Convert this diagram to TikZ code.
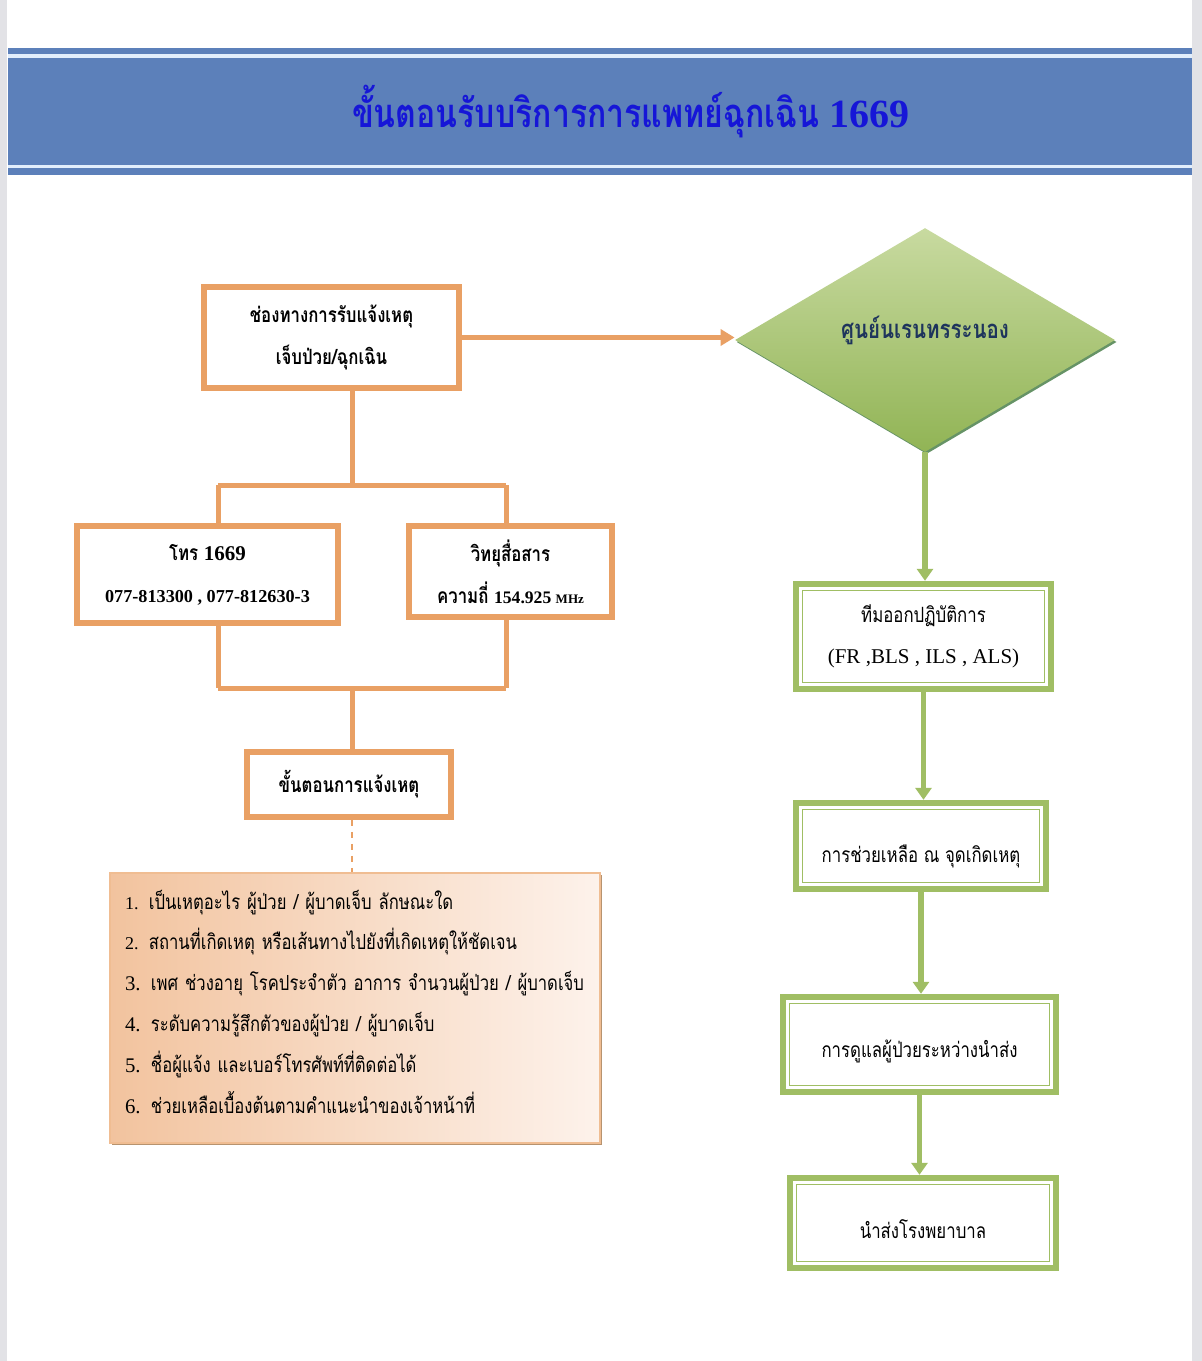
\documentclass[tikz,border=0pt]{standalone}
\usepackage{fontspec}
\setmainfont[Script=Thai,FakeStretch=0.8]{Loma}
\newfontfamily\lat{Liberation Serif}
\usetikzlibrary{positioning,arrows.meta,shapes.geometric,shadows}
\definecolor{bandblue}{RGB}{92,128,186}
\definecolor{bandpale}{RGB}{226,238,252}
\definecolor{titleblue}{RGB}{22,22,215}
\definecolor{oline}{RGB}{233,160,100}
\definecolor{gline}{RGB}{160,190,100}
\definecolor{gdark}{RGB}{145,180,85}
\definecolor{glight}{RGB}{200,218,160}
\definecolor{navy}{RGB}{30,52,92}
\definecolor{tandark}{RGB}{242,195,158}
\definecolor{tanmid}{RGB}{249,222,201}
\definecolor{tanlight}{RGB}{253,242,235}
\definecolor{sidegray}{RGB}{226,226,230}
\begin{document}
\begin{tikzpicture}[x=0.5pt,y=-0.5pt,
  obox/.style={draw=oline,line width=2.8pt,fill=white,inner sep=0pt,align=center,
    font=\fontsize{10.5}{21}\selectfont\bfseries},
  gbox/.style={draw=gline,line width=3.2pt,fill=white,inner sep=0pt,align=center,
    font=\fontsize{10.5}{20.5}\selectfont,
    path picture={\draw[gline,line width=0.8pt]
      ([shift={(3.2pt,-3.2pt)}]path picture bounding box.north west) rectangle
      ([shift={(-3.2pt,3.2pt)}]path picture bounding box.south east);}},
  link/.style={draw=oline,line width=2.5pt},
  garrow/.style={draw=gline,line width=2.6pt,-{Triangle[width=8pt,length=6pt]}}]
  \useasboundingbox (0,0) rectangle (1202,1361);
  \fill[white] (0,0) rectangle (1202,1361);
  \fill[sidegray] (0,0) rectangle (7,1361);
  \fill[sidegray] (1192,0) rectangle (1202,1361);
  \fill[bandblue] (8,48) rectangle (1192,175);
  \fill[bandpale] (8,54) rectangle (1192,58);
  \fill[bandpale] (8,165) rectangle (1192,168);
  \node[text=titleblue,font=\fontsize{20}{24}\selectfont\bfseries] (title) at (631,112)
    {ขั้นตอนรับบริการการแพทย์ฉุกเฉิน {\lat 1669}};

  \coordinate (j1) at (352,485);
  \coordinate (lt) at (218,485);
  \coordinate (rt) at (506,485);
  \coordinate (lb) at (218,688);
  \coordinate (rb) at (506,688);
  \coordinate (j2) at (352,688);
  \draw[link] (j1) -- (lt) (j1) -- (rt) (lb) -- (rb);

  \node[obox,minimum width=127.5pt,minimum height=50.5pt] (report) at (331.5,337.5)
    {ช่องทางการรับแจ้งเหตุ\\เจ็บป่วย/ฉุกเฉิน};
  \node[obox,minimum width=130.5pt,minimum height=48.5pt] (phone) at (207.5,574.5)
    {โทร {\lat 1669}\\{\lat\fontsize{9.1}{21}\selectfont 077-813300 , 077-812630-3}};
  \node[obox,minimum width=101.5pt,minimum height=45.5pt] (radio) at (510.5,571.5)
    {วิทยุสื่อสาร\\ความถี่ {\lat\fontsize{8.8}{21}\selectfont 154.925 {\fontsize{6.5}{7}\selectfont MHz}}};
  \node[obox,minimum width=102pt,minimum height=32.5pt] (steps) at (349,784.5)
    {ขั้นตอนการแจ้งเหตุ};
  \node[draw=oline!70,line width=0.6pt,left color=tandark,middle color=tanmid,right color=tanlight,
    drop shadow={shadow xshift=1pt,shadow yshift=-1pt,fill=brown!80!black,opacity=0.7},
    minimum width=245pt,minimum height=135pt,inner xsep=7.5pt,text width=230pt,align=left,
    font=\fontsize{10.4}{20.4}\selectfont] (details) at (355,1008)
    {{\lat\small 1.} เป็นเหตุอะไร ผู้ป่วย / ผู้บาดเจ็บ ลักษณะใด\\
     {\lat\small 2.} สถานที่เกิดเหตุ หรือเส้นทางไปยังที่เกิดเหตุให้ชัดเจน\\
     {\lat 3.} เพศ ช่วงอายุ โรคประจำตัว อาการ จำนวนผู้ป่วย / ผู้บาดเจ็บ\\
     {\lat 4.} ระดับความรู้สึกตัวของผู้ป่วย / ผู้บาดเจ็บ\\
     {\lat 5.} ชื่อผู้แจ้ง และเบอร์โทรศัพท์ที่ติดต่อได้\\
     {\lat 6.} ช่วยเหลือเบื้องต้นตามคำแนะนำของเจ้าหน้าที่\\[-13.9pt]\mbox{}};

  \draw[link] (j1 |- report.south) -- (j1);
  \draw[link] (lt) -- (lt |- phone.north);
  \draw[link] (rt) -- (rt |- radio.north);
  \draw[link] (lb |- phone.south) -- (lb);
  \draw[link] (rb |- radio.south) -- (rb);
  \draw[link] (j2) -- (j2 |- steps.north);
  \draw[oline,line width=1pt,dashed] (j2 |- steps.south) -- (j2 |- details.north);

  \node[diamond,aspect=1.7,minimum width=190pt,minimum height=112pt,inner sep=0pt,
    top color=glight,bottom color=gdark,text height=0pt,text depth=2pt,
    drop shadow={shadow xshift=0.8pt,shadow yshift=-1pt,fill=black!70!green,opacity=0.6},
    text=navy,font=\fontsize{12.8}{14}\selectfont\bfseries] (centre) at (925,340)
    {ศูนย์นเรนทรระนอง};
  \draw[link,-{Triangle[width=8pt,length=7pt]}] (report.east) -- (report.east -| centre.west);

  \node[gbox,minimum width=127.5pt,minimum height=52.5pt] (team) at (923.5,636.5)
    {ทีมออกปฏิบัติการ\\{\lat (FR ,BLS , ILS , ALS)}};
  \node[gbox,minimum width=125pt,minimum height=43pt,text height=16.5pt,text depth=0pt] (scene) at (921,846)
    {การช่วยเหลือ ณ จุดเกิดเหตุ};
  \node[gbox,minimum width=136.5pt,minimum height=47.5pt,text height=12.5pt,text depth=0pt] (transfer) at (919.5,1044.5)
    {การดูแลผู้ป่วยระหว่างนำส่ง};
  \node[gbox,minimum width=133pt,minimum height=45pt,text height=15pt,text depth=0pt] (hospital) at (923,1223)
    {นำส่งโรงพยาบาล};
  \draw[garrow] (centre.south) -- (centre.south |- team.north);
  \draw[garrow] (team.south) -- (team.south |- scene.north);
  \draw[garrow] (scene.south) -- (scene.south |- transfer.north);
  \draw[garrow] (transfer.south) -- (transfer.south |- hospital.north);
\end{tikzpicture}
\end{document}
